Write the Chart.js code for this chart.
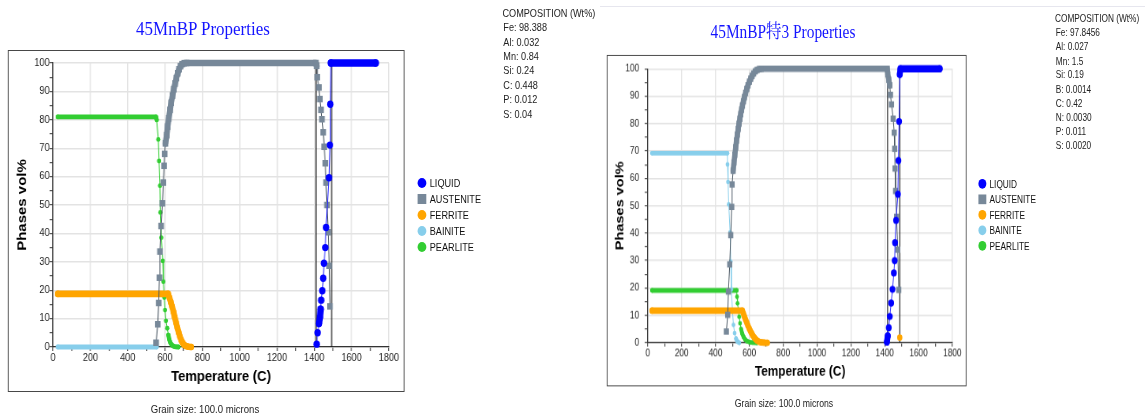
<!DOCTYPE html>
<html>
<head>
<meta charset="utf-8">
<script src="https://cdn.jsdelivr.net/npm/chart.js@4.4.1/dist/chart.umd.min.js"></script>
<style>
html,body{margin:0;padding:0;background:#fff;width:1145px;height:416px;overflow:hidden;font-family:'Liberation Sans',Arial,Helvetica,sans-serif;}
.panel{position:absolute;left:0;top:0;width:760px;height:430px;transform-origin:0 0;}
.title{position:absolute;font-family:'Liberation Serif','Times New Roman','Noto Serif CJK SC','Noto Sans CJK SC',serif;color:#1414ff;font-size:19.5px;line-height:22px;white-space:nowrap;text-align:center;width:320px;}
.box{position:absolute;box-sizing:border-box;border:1.4px solid #474747;}
.box canvas{position:absolute;left:0;top:0;}
.comp{position:absolute;font-size:10.5px;color:#222;white-space:nowrap;}
.leg{position:absolute;font-size:10.5px;color:#111;white-space:nowrap;line-height:12px;}
.mk{position:absolute;width:10.5px;height:10px;}
.grain{position:absolute;font-size:11px;color:#222;white-space:nowrap;text-align:center;width:300px;line-height:14px;}
.sep{position:absolute;left:600px;top:6px;width:545px;height:1px;background:#e6e6ee;}
</style>
</head>
<body>
<div class="sep"></div>
<script>
// ---------- shared axis data ----------
const X_MAJOR = [0, 200, 400, 600, 800, 1000, 1200, 1400, 1600, 1800];
const Y_MAJOR = [0, 10, 20, 30, 40, 50, 60, 70, 80, 90, 100];
const PHASES = ['LIQUID', 'AUSTENITE', 'FERRITE', 'BAINITE', 'PEARLITE'];
const X_TITLE = 'Temperature (C)';
const Y_TITLE = 'Phases vol%';
const COMP_HEADER = 'COMPOSITION (Wt%)';
const GRAIN_TEXT = 'Grain size: 100.0 microns';

// ---------- panel 1 : 45MnBP ----------
const P1_TITLE = '45MnBP Properties';
const P1_COMP_EL = ['Fe', 'Al', 'Mn', 'Si', 'C', 'P', 'S'];
const P1_COMP_WT = ['98.388', '0.032', '0.84', '0.24', '0.448', '0.012', '0.04'];
const P1_TRANSITION_T = [1409, 1493];

const P1_LIQUID_T = [1413, 1418, 1425, 1430, 1434, 1437, 1443, 1448, 1452, 1459, 1463, 1479, 1484, 1486, 1489, 1729];
const P1_LIQUID_V = [1, 5, 8.3, 10.4, 13.3, 16.5, 19.8, 24.2, 29.5, 35, 42.1, 59.6, 71.1, 85.5, 100, 100];

const P1_AUSTENITE_T = [552, 561, 566, 570, 573, 579, 586, 591, 595, 598, 602, 609, 614, 620, 627, 633, 640, 647, 654, 661, 668, 675, 683, 692, 703, 715,
  1409, 1413, 1416, 1425, 1430, 1436, 1441, 1448, 1453, 1459, 1463, 1468, 1475, 1480, 1484];
const P1_AUSTENITE_V = [1.5, 8, 15.5, 24.4, 33.6, 42.6, 50.6, 57.9, 63.8, 68, 71.7, 74.6, 77.6, 80.5, 83.5, 86, 88.5, 90.8, 92.8, 94.7, 96.4, 97.8, 98.9, 99.6, 99.95, 100,
  100, 99, 95, 91.4, 87.3, 83.5, 80.2, 75.6, 70.5, 64.7, 57.9, 50, 40.4, 28.6, 14.3];

const P1_FERRITE_T = [25, 617, 624, 631, 638, 645, 652, 659, 666, 673, 680, 687, 694, 702, 712, 725, 740];
const P1_FERRITE_V = [18.7, 18.7, 17.3, 15.8, 14.2, 12.4, 10.5, 8.6, 6.8, 5.1, 3.6, 2.4, 1.5, 0.8, 0.35, 0.1, 0];

const P1_BAINITE_T = [25, 555];
const P1_BAINITE_V = [0, 0];

const P1_PEARLITE_T = [25, 552, 555, 564, 568, 573, 575, 580, 588, 591, 596, 600, 605, 612, 618, 623, 628, 634, 641, 650, 660, 672];
const P1_PEARLITE_V = [81, 81, 80, 73.1, 65.5, 56.8, 47.4, 38.5, 30.3, 23, 17.4, 13, 9.2, 6.6, 4.2, 2.6, 1.6, 0.9, 0.45, 0.15, 0.03, 0];

// ---------- panel 2 : 45MnBP特3 ----------
const P2_TITLE = '45MnBP特3 Properties';
const P2_COMP_EL = ['Fe', 'Al', 'Mn', 'Si', 'B', 'C', 'N', 'P', 'S'];
const P2_COMP_WT = ['97.8456', '0.027', '1.5', '0.19', '0.0014', '0.42', '0.0030', '0.011', '0.0020'];
const P2_TRANSITION_T = [1417, 1489];

const P2_LIQUID_T = [1413, 1418, 1424, 1430, 1438, 1446, 1454, 1459, 1461, 1467, 1478, 1481, 1485, 1489, 1493, 1725];
const P2_LIQUID_V = [0.3, 2.5, 5.5, 9.6, 14.5, 19.5, 25.5, 30, 36.5, 44.7, 54.2, 66.5, 80.8, 98, 100, 100];

const P2_AUSTENITE_T = [464, 472, 476, 484, 490, 496, 498, 504, 509, 514, 519, 524, 529, 534, 539, 544, 549, 554, 559, 565, 571, 578, 585, 592, 600, 608, 616, 625, 635, 646, 658, 670,
  1415, 1418, 1424, 1430, 1434, 1440, 1450, 1456, 1459, 1461, 1464, 1470, 1477, 1483];
const P2_AUSTENITE_V = [4.1, 10.2, 18.7, 28.6, 39.3, 49.6, 57.8, 62.8, 65.8, 68.6, 71.3, 73.8, 76, 78.1, 80, 81.8, 83.5, 85.1, 86.6, 88.2, 89.7, 91.2, 92.7, 94, 95.3, 96.4, 97.4, 98.3, 99.1, 99.6, 99.9, 100,
  100, 98, 96, 94, 90.5, 87, 81.8, 76.7, 70.8, 63.6, 55.4, 46, 34, 19.3];

const P2_FERRITE_T = [25, 559, 565, 571, 578, 585, 592, 599, 606, 613, 620, 628, 637, 647, 658, 672, 688, 706, 1488, 1489];
const P2_FERRITE_V = [11.7, 11.7, 10.6, 9.5, 8.4, 7.3, 6.2, 5.2, 4.3, 3.5, 2.7, 2, 1.3, 0.75, 0.35, 0.12, 0.03, 0, null, 1.9];

const P2_BAINITE_T = [25, 470, 471, 474, 478, 486, 490, 494, 500, 506, 513, 521, 530, 540];
const P2_BAINITE_V = [69.2, 69.2, 65.1, 58.7, 50.5, 40.3, 29.6, 19.5, 11.7, 6.5, 3.5, 1.5, 0.4, 0];

const P2_PEARLITE_T = [25, 525, 527, 530, 535, 540, 545, 551, 558, 566, 575, 586, 600, 620, 645];
const P2_PEARLITE_V = [19.1, 19.1, 16.8, 14.4, 12, 9.5, 7.1, 5, 3.3, 2.1, 1.2, 0.6, 0.25, 0.05, 0];

// ---------- styles ----------
const F = "'Liberation Sans', Arial, Helvetica, sans-serif";
const STYLE = {
  LIQUID:    {marker: '#0000ff', line: '#2a2aff', shape: 'circle', r: 3.7, thr: 8.5},
  AUSTENITE: {marker: '#778899', line: '#46535f', shape: 'rect',   r: 4.6, thr: 9},
  FERRITE:   {marker: '#ffa500', line: '#ffa500', shape: 'circle', r: 3.3, thr: 7.6},
  BAINITE:   {marker: '#87ceeb', line: '#87ceeb', shape: 'circle', r: 2.4, thr: 5.8},
  PEARLITE:  {marker: '#32cd32', line: '#32cd32', shape: 'circle', r: 2.4, thr: 5.8}
};

const PANELS = [
  {title: P1_TITLE, transform: 'scale(0.87,1)', titleCx: 233.3, titleCy: 29,
   compX: 577.5, compY: 13, compLH: 14.4, compEl: P1_COMP_EL, compWt: P1_COMP_WT,
   trans: P1_TRANSITION_T, yPad: 0, grainCx: 235.6, grainCy: 409,
   series: {LIQUID: [P1_LIQUID_T, P1_LIQUID_V], AUSTENITE: [P1_AUSTENITE_T, P1_AUSTENITE_V], FERRITE: [P1_FERRITE_T, P1_FERRITE_V],
            BAINITE: [P1_BAINITE_T, P1_BAINITE_V], PEARLITE: [P1_PEARLITE_T, P1_PEARLITE_V]}},
  {title: P2_TITLE, transform: 'translate(599.7px,6.5px) scale(0.789,0.969)', titleCx: 232.3, titleCy: 27.3,
   compX: 577, compY: 11.9, compLH: 14.65, compEl: P2_COMP_EL, compWt: P2_COMP_WT,
   trans: P2_TRANSITION_T, yPad: 7, grainCx: 233.6, grainCy: 409.2,
   series: {LIQUID: [P2_LIQUID_T, P2_LIQUID_V], AUSTENITE: [P2_AUSTENITE_T, P2_AUSTENITE_V], FERRITE: [P2_FERRITE_T, P2_FERRITE_V],
            BAINITE: [P2_BAINITE_T, P2_BAINITE_V], PEARLITE: [P2_PEARLITE_T, P2_PEARLITE_V]}}
];

function isBand(c, thr) {
  const dx = c.p1.x - c.p0.x, dy = c.p1.y - c.p0.y;
  return Math.abs(dy) < 0.01 || Math.hypot(dx, dy) < thr;
}

function phaseDataset(name, T, V) {
  const st = STYLE[name];
  const band = st.shape === 'rect' ? st.r * Math.SQRT2 : st.r * 2;
  return {
    label: name,
    data: T.map((t, i) => ({x: t, y: V[i]})),
    borderColor: st.line, borderWidth: 1,
    borderCapStyle: 'round', borderJoinStyle: 'round',
    pointRadius: st.r, pointStyle: st.shape,
    pointBackgroundColor: st.marker, pointBorderColor: st.marker, pointBorderWidth: 0,
    spanGaps: false, clip: false, tension: 0,
    segment: {
      borderWidth: c => isBand(c, st.thr) ? band : 1,
      borderColor: c => isBand(c, st.thr) ? st.marker : st.line
    }
  };
}

function transitionDataset(t) {
  return {
    label: '', data: [{x: t, y: Y_MAJOR[0]}, {x: t, y: Y_MAJOR[Y_MAJOR.length - 1]}],
    borderColor: '#111', borderWidth: 1.1, pointRadius: 0, clip: false
  };
}

function el(parent, cls, css, text) {
  const d = document.createElement('div');
  if (cls) d.className = cls;
  Object.assign(d.style, css);
  if (text !== undefined) d.textContent = text;
  parent.appendChild(d);
  return d;
}

function buildPanel(p) {
  const panel = el(document.body, 'panel', {transform: p.transform});
  el(panel, 'title', {left: (p.titleCx - 160) + 'px', top: (p.titleCy - 11) + 'px'}, p.title);

  // composition
  const comp = el(panel, 'comp', {left: p.compX + 'px', top: (p.compY - p.compLH / 2) + 'px', lineHeight: p.compLH + 'px'});
  el(comp, null, {}, COMP_HEADER);
  p.compEl.forEach((e, i) => el(comp, null, {paddingLeft: '1px'}, e + ': ' + p.compWt[i]));

  // legend
  PHASES.forEach((name, i) => {
    const cy = 183 + 16.1 * i;
    const st = STYLE[name];
    el(panel, 'mk', {left: (485 - 5.25) + 'px', top: (cy - 5) + 'px', background: st.marker,
      borderRadius: st.shape === 'circle' ? '50%' : '0'});
    el(panel, 'leg', {left: '494px', top: (cy - 6) + 'px'}, name);
  });

  // grain size
  el(panel, 'grain', {left: (p.grainCx - 150) + 'px', top: (p.grainCy - 7) + 'px'}, GRAIN_TEXT);

  // chart box
  const box = el(panel, 'box', {left: '9px', top: '50px', width: '456.3px', height: '342px'});
  const cv = document.createElement('canvas');
  cv.width = 454; cv.height = 340;
  cv.style.width = '454px'; cv.style.height = '340px';
  box.appendChild(cv);

  const datasets = PHASES.map(n => phaseDataset(n, p.series[n][0], p.series[n][1]));
  p.trans.forEach(t => datasets.push(transitionDataset(t)));

  const axisTitleFont = {family: F, size: 15, weight: 'bold'};
  const tickFont = {family: F, size: 10.5};

  new Chart(cv, {
    type: 'line',
    data: {datasets},
    options: {
      responsive: false, animation: false, devicePixelRatio: 1, events: [],
      layout: {padding: {left: 0, right: 17, top: 12, bottom: 0}},
      plugins: {legend: {display: false}, tooltip: {enabled: false}, title: {display: false}},
      scales: {
        x: {
          type: 'linear', min: X_MAJOR[0], max: X_MAJOR[X_MAJOR.length - 1],
          afterFit: s => { s.height = 44; },
          ticks: {stepSize: 100, autoSkip: false, maxRotation: 0, padding: 1, color: '#222', font: tickFont,
            callback: v => X_MAJOR.includes(v) ? String(v) : ''},
          grid: {color: c => X_MAJOR.includes(c.tick.value) ? '#e3e3e3' : 'rgba(0,0,0,0)', lineWidth: 1.4,
            tickLength: 4, tickColor: '#333', tickWidth: 1},
          border: {color: '#333', width: 1.3},
          title: {display: true, text: X_TITLE, color: '#000', font: axisTitleFont, padding: {top: 0, bottom: 5}}
        },
        y: {
          type: 'linear', min: Y_MAJOR[0], max: Y_MAJOR[Y_MAJOR.length - 1],
          afterFit: s => { s.width = 51; },
          ticks: {stepSize: 5, autoSkip: false, padding: p.yPad, color: '#222', font: tickFont,
            callback: v => Y_MAJOR.includes(v) ? String(v) : ''},
          grid: {color: c => Y_MAJOR.includes(c.tick.value) ? '#e3e3e3' : 'rgba(0,0,0,0)', lineWidth: 1.4,
            tickLength: 4, tickColor: '#333', tickWidth: 1},
          border: {color: '#333', width: 1.3},
          title: {display: true, text: Y_TITLE, color: '#000', font: axisTitleFont, padding: {top: 7, bottom: 0}}
        }
      }
    }
  });
}

PANELS.forEach(buildPanel);
</script>
</body>
</html>
